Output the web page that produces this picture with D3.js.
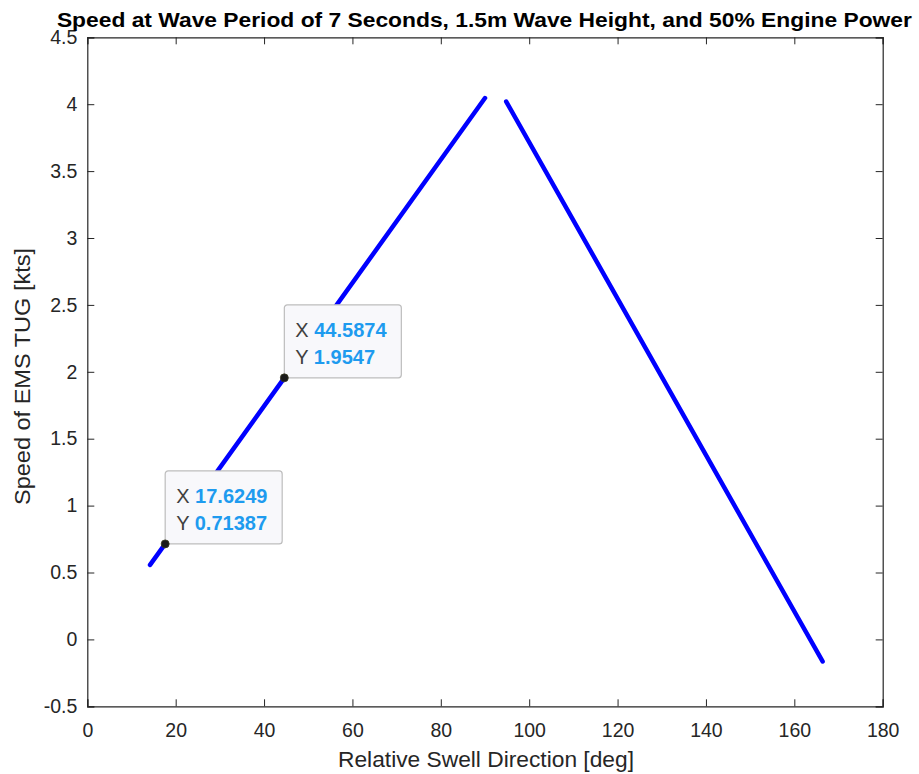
<!DOCTYPE html>
<html><head><meta charset="utf-8">
<script src="https://cdn.jsdelivr.net/npm/d3@7"></script>
<style>body{margin:0;background:#fff}svg{display:block}text{font-family:"Liberation Sans",Arial,sans-serif}</style>
</head><body>
<script>
const title = "Speed at Wave Period of 7 Seconds, 1.5m Wave Height, and 50% Engine Power";
const xLabel = "Relative Swell Direction [deg]";
const yLabel = "Speed of EMS TUG [kts]";
const xTicks = [0,20,40,60,80,100,120,140,160,180];
const yTicks = [-0.5,0,0.5,1,1.5,2,2.5,3,3.5,4,4.5];
// Segment 1 (rising), segment 2 (falling)
const seg1X = [14.2, 17.6249, 44.5874, 90.0];
const seg1Y = [0.557, 0.71387, 1.9547, 4.046];
const seg2X = [94.8, 166.4];
const seg2Y = [4.02, -0.165];
// data tips
const tipX = [17.6249, 44.5874];
const tipY = [0.71387, 1.9547];
const tipXText = ["17.6249", "44.5874"];
const tipYText = ["0.71387", "1.9547"];

const W = 919, H = 774;
const L = 87.3, R = 882.7, T = 37.3, B = 706.3;
const svg = d3.select("body").append("svg").attr("width", W).attr("height", H);
const x = d3.scaleLinear().domain([0,180]).range([L,R]);
const y = d3.scaleLinear().domain([-0.5,4.5]).range([B,T]);

const tickLen = 7, axCol = "#262626";
const fmt = d => String(d);
const gB = svg.append("g").attr("transform",`translate(0,${B})`)
  .call(d3.axisBottom(x).tickValues(xTicks).tickSize(-tickLen).tickPadding(17).tickFormat(fmt));
const gT = svg.append("g").attr("transform",`translate(0,${T})`)
  .call(d3.axisTop(x).tickValues(xTicks).tickSize(-tickLen).tickFormat(""));
const gL = svg.append("g").attr("transform",`translate(${L},0)`)
  .call(d3.axisLeft(y).tickValues(yTicks).tickSize(-tickLen).tickPadding(10).tickFormat(fmt));
const gR = svg.append("g").attr("transform",`translate(${R},0)`)
  .call(d3.axisRight(y).tickValues(yTicks).tickSize(-tickLen).tickFormat(""));
[gB,gT,gL,gR].forEach(g=>{
  g.select(".domain").attr("stroke",axCol).attr("stroke-width",1.2);
  g.selectAll(".tick line").attr("stroke",axCol).attr("stroke-width",1);
  g.selectAll(".tick text").attr("fill",axCol).style("font-size","19.5px").style("font-family",'"Liberation Sans",Arial,sans-serif');
});
gB.selectAll(".tick text").attr("dy","0.71em");

// title
svg.append("text").attr("x",484.4).attr("y",26.7).attr("text-anchor","middle")
  .attr("font-weight","bold").attr("font-size","20px").attr("fill","#000")
  .attr("textLength",855).attr("lengthAdjust","spacingAndGlyphs").text(title);
svg.append("text").attr("x",486).attr("y",767).attr("text-anchor","middle")
  .attr("font-size","21.6px").attr("fill",axCol)
  .attr("textLength",296).attr("lengthAdjust","spacingAndGlyphs").text(xLabel);
svg.append("text").attr("transform",`translate(30,376.5) rotate(-90)`).attr("text-anchor","middle")
  .attr("font-size","22px").attr("fill",axCol)
  .attr("textLength",257).attr("lengthAdjust","spacingAndGlyphs").text(yLabel);

// lines
const line = d3.line().x(d=>x(d[0])).y(d=>y(d[1]));
[[seg1X,seg1Y],[seg2X,seg2Y]].forEach(([xs,ys])=>{
  svg.append("path").datum(xs.map((v,i)=>[v,ys[i]])).attr("d",line)
    .attr("fill","none").attr("stroke","#0000ff").attr("stroke-width",4.5).attr("stroke-linecap","round");
});

// data tips
tipX.forEach((tx,i)=>{
  const px = x(tx), py = y(tipY[i]);
  const bw = 117, bh = 73;
  const g = svg.append("g").attr("transform",`translate(${px},${py-bh})`);
  g.append("rect").attr("x",0).attr("y",0).attr("width",bw).attr("height",bh).attr("rx",3)
    .attr("fill","#f8f8fb").attr("stroke","#bdbdbd").attr("stroke-width",1.2);
  const t1 = g.append("text").attr("x",11).attr("y",32).attr("font-size","20px");
  t1.append("tspan").attr("fill","#404040").text("X ");
  t1.append("tspan").attr("fill","#1e9bef").attr("font-weight","bold").text(tipXText[i]);
  const t2 = g.append("text").attr("x",11).attr("y",59).attr("font-size","20px");
  t2.append("tspan").attr("fill","#404040").text("Y ");
  t2.append("tspan").attr("fill","#1e9bef").attr("font-weight","bold").text(tipYText[i]);
  svg.append("circle").attr("cx",px).attr("cy",py).attr("r",4).attr("fill","#1a1a1a").attr("stroke","#3a3a20").attr("stroke-width",0.8);
});
</script>
</body></html>
